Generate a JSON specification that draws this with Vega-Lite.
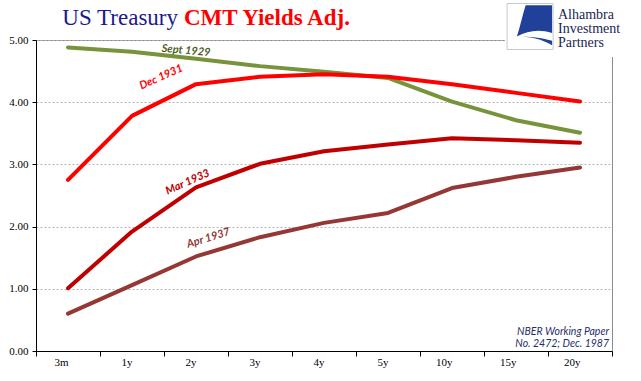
{
  "$schema": "https://vega.github.io/schema/vega-lite/v6.json",
  "width": 576,
  "height": 311,
  "autosize": {"type": "none"},
  "padding": {"left": 36, "top": 40, "right": 29, "bottom": 30},
  "background": "white",
  "config": {
    "view": {"stroke": "#8C8C8C", "strokeWidth": 1}
  },
  "datasets": {
    "yields": [
      {"series": "Sept 1929", "tenor": "3m", "value": 4.88},
      {"series": "Sept 1929", "tenor": "1y", "value": 4.81},
      {"series": "Sept 1929", "tenor": "2y", "value": 4.70},
      {"series": "Sept 1929", "tenor": "3y", "value": 4.58},
      {"series": "Sept 1929", "tenor": "4y", "value": 4.49},
      {"series": "Sept 1929", "tenor": "5y", "value": 4.39},
      {"series": "Sept 1929", "tenor": "10y", "value": 4.01},
      {"series": "Sept 1929", "tenor": "15y", "value": 3.71},
      {"series": "Sept 1929", "tenor": "20y", "value": 3.51},
      {"series": "Dec 1931", "tenor": "3m", "value": 2.75},
      {"series": "Dec 1931", "tenor": "1y", "value": 3.78},
      {"series": "Dec 1931", "tenor": "2y", "value": 4.29},
      {"series": "Dec 1931", "tenor": "3y", "value": 4.41},
      {"series": "Dec 1931", "tenor": "4y", "value": 4.45},
      {"series": "Dec 1931", "tenor": "5y", "value": 4.41},
      {"series": "Dec 1931", "tenor": "10y", "value": 4.29},
      {"series": "Dec 1931", "tenor": "15y", "value": 4.15},
      {"series": "Dec 1931", "tenor": "20y", "value": 4.01},
      {"series": "Mar 1933", "tenor": "3m", "value": 1.01},
      {"series": "Mar 1933", "tenor": "1y", "value": 1.92},
      {"series": "Mar 1933", "tenor": "2y", "value": 2.63},
      {"series": "Mar 1933", "tenor": "3y", "value": 3.01},
      {"series": "Mar 1933", "tenor": "4y", "value": 3.21},
      {"series": "Mar 1933", "tenor": "5y", "value": 3.32},
      {"series": "Mar 1933", "tenor": "10y", "value": 3.42},
      {"series": "Mar 1933", "tenor": "15y", "value": 3.39},
      {"series": "Mar 1933", "tenor": "20y", "value": 3.35},
      {"series": "Apr 1937", "tenor": "3m", "value": 0.60},
      {"series": "Apr 1937", "tenor": "1y", "value": 1.06},
      {"series": "Apr 1937", "tenor": "2y", "value": 1.52},
      {"series": "Apr 1937", "tenor": "3y", "value": 1.83},
      {"series": "Apr 1937", "tenor": "4y", "value": 2.06},
      {"series": "Apr 1937", "tenor": "5y", "value": 2.22},
      {"series": "Apr 1937", "tenor": "10y", "value": 2.62},
      {"series": "Apr 1937", "tenor": "15y", "value": 2.80},
      {"series": "Apr 1937", "tenor": "20y", "value": 2.95}
    ],
    "labels": [
      {"series": "Sept 1929", "tenor": "2y", "value": 4.81},
      {"series": "Dec 1931", "tenor": "1y", "value": 4.19},
      {"series": "Mar 1933", "tenor": "2y", "value": 2.77},
      {"series": "Apr 1937", "tenor": "2y", "value": 1.75}
    ]
  },
  "layer": [
    {
      "data": {"values": [{"k": "bg"}]},
      "mark": {"type": "point", "shape": "M -1 -0.42 L 1 -0.42 L 1 0.42 L -1 0.42 Z", "filled": true, "color": "white", "opacity": 1, "size": 18496, "strokeWidth": 0},
      "encoding": {
        "x": {"datum": "20y", "type": "nominal", "bandPosition": 0.39},
        "y": {"datum": 5.185, "type": "quantitative"}
      }
    },
    {
      "data": {"name": "yields"},
      "mark": {"type": "line", "strokeWidth": 4, "interpolate": "linear", "strokeCap": "round", "strokeJoin": "round"},
      "encoding": {
        "x": {
          "field": "tenor", "type": "nominal", "bandPosition": 0.5,
          "scale": {"type": "band", "domain": ["3m","1y","2y","3y","4y","5y","10y","15y","20y"], "paddingInner": 0, "paddingOuter": 0},
          "axis": {"title": null, "labelAngle": 0, "tickBand": "extent", "domainColor": "#000000", "tickColor": "#000000", "tickSize": 5, "labelFont": "Liberation Serif", "labelFontSize": 11, "labelColor": "#000000", "labelPadding": 6, "grid": false}
        },
        "y": {
          "field": "value", "type": "quantitative",
          "scale": {"domain": [0, 5], "nice": false, "zero": true},
          "axis": {"title": null, "values": [0,1,2,3,4,5], "format": ".2f", "domainColor": "#000000", "tickColor": "#000000", "tickSize": 4, "labelPadding": 4, "labelFont": "Liberation Serif", "labelFontSize": 11, "labelColor": "#000000", "grid": true, "gridDash": [2, 2], "gridColor": "#B4B4B4", "gridWidth": 1}
        },
        "color": {
          "field": "series", "type": "nominal", "legend": null,
          "scale": {"domain": ["Sept 1929","Dec 1931","Mar 1933","Apr 1937"], "range": ["#77933C","#FF0000","#C00000","#953735"]}
        }
      }
    },
    {
      "data": {"name": "labels"},
      "transform": [{"filter": "datum.series === 'Sept 1929'"}],
      "mark": {"type": "text", "font": "Lato", "fontStyle": "italic", "fontWeight": "bold", "fontSize": 11, "color": "#4F6228", "angle": 5, "dx": -10, "align": "center", "baseline": "middle"},
      "encoding": {
        "x": {"field": "tenor", "type": "nominal", "bandPosition": 0.5},
        "y": {"field": "value", "type": "quantitative"},
        "text": {"field": "series"}
      }
    },
    {
      "data": {"name": "labels"},
      "transform": [{"filter": "datum.series === 'Dec 1931'"}],
      "mark": {"type": "text", "font": "Lato", "fontStyle": "italic", "fontWeight": "bold", "fontSize": 11, "color": "#FF0000", "angle": -24, "dx": 32, "align": "center", "baseline": "middle"},
      "encoding": {
        "x": {"field": "tenor", "type": "nominal", "bandPosition": 0.5},
        "y": {"field": "value", "type": "quantitative"},
        "text": {"field": "series"}
      }
    },
    {
      "data": {"name": "labels"},
      "transform": [{"filter": "datum.series === 'Mar 1933'"}],
      "mark": {"type": "text", "font": "Lato", "fontStyle": "italic", "fontWeight": "bold", "fontSize": 11, "color": "#C00000", "angle": -24, "dx": -9, "align": "center", "baseline": "middle"},
      "encoding": {
        "x": {"field": "tenor", "type": "nominal", "bandPosition": 0.5},
        "y": {"field": "value", "type": "quantitative"},
        "text": {"field": "series"}
      }
    },
    {
      "data": {"name": "labels"},
      "transform": [{"filter": "datum.series === 'Apr 1937'"}],
      "mark": {"type": "text", "font": "Lato", "fontStyle": "italic", "fontWeight": "bold", "fontSize": 11, "color": "#953735", "angle": -17, "dx": 13, "align": "center", "baseline": "middle"},
      "encoding": {
        "x": {"field": "tenor", "type": "nominal", "bandPosition": 0.5},
        "y": {"field": "value", "type": "quantitative"},
        "text": {"field": "series"}
      }
    },
    {
      "data": {"values": [{"t": "US Treasury"}]},
      "mark": {"type": "text", "font": "Liberation Serif", "fontSize": 23, "color": "#1A1A8C", "align": "right", "baseline": "middle", "dx": -18},
      "encoding": {
        "x": {"datum": "2y", "type": "nominal", "bandPosition": 0.5},
        "y": {"datum": 5.35, "type": "quantitative"},
        "text": {"field": "t"}
      }
    },
    {
      "data": {"values": [{"t": "CMT Yields Adj."}]},
      "mark": {"type": "text", "font": "Liberation Serif", "fontSize": 23, "fontWeight": "bold", "color": "#FF0000", "align": "left", "baseline": "middle", "dx": -12},
      "encoding": {
        "x": {"datum": "2y", "type": "nominal", "bandPosition": 0.5},
        "y": {"datum": 5.35, "type": "quantitative"},
        "text": {"field": "t"}
      }
    },
    {
      "data": {"values": [{"k": "box"}]},
      "mark": {"type": "point", "shape": "square", "fill": "white", "stroke": "#C8C8C8", "strokeWidth": 1, "opacity": 1, "size": 2116},
      "encoding": {
        "x": {"datum": "15y", "type": "nominal", "bandPosition": 0.72},
        "y": {"datum": 5.217, "type": "quantitative"}
      }
    },
    {
      "data": {"values": [{"k": "swoosh"}]},
      "mark": {"type": "point", "shape": "M -0.2 -0.97 L 1 -0.97 L 1 0.3 C 0.4 0.1 -0.1 0.2 -0.6 0.45 C -0.45 0 -0.35 -0.5 -0.2 -0.97 Z M -0.6 0.45 C 0 0.45 0.5 0.55 1 0.85 L 1 0.65 C 0.5 0.5 0 0.45 -0.6 0.45 Z", "filled": true, "color": "#21409A", "opacity": 1, "size": 1936, "strokeWidth": 0},
      "encoding": {
        "x": {"datum": "15y", "type": "nominal", "bandPosition": 0.72},
        "y": {"datum": 5.217, "type": "quantitative"}
      }
    },
    {
      "data": {"values": [{"k": "logo"}]},
      "mark": {"type": "text", "text": ["Alhambra", "Investment", "Partners"], "font": "Liberation Serif", "fontSize": 14, "lineHeight": 14, "color": "#1C1F4F", "align": "left", "baseline": "alphabetic", "dx": -22},
      "encoding": {
        "x": {"datum": "20y", "type": "nominal", "bandPosition": 0.5},
        "y": {"datum": 5.335, "type": "quantitative"}
      }
    },
    {
      "data": {"values": [{"k": "note"}]},
      "mark": {"type": "text", "text": ["NBER Working Paper", "No. 2472; Dec. 1987"], "font": "Lato", "fontStyle": "italic", "fontSize": 10.5, "lineHeight": 12, "color": "#1F2D6B", "align": "right", "baseline": "alphabetic", "dx": 29},
      "encoding": {
        "x": {"datum": "20y", "type": "nominal", "bandPosition": 0.5},
        "y": {"datum": 0.257, "type": "quantitative"}
      }
    }
  ]
}
